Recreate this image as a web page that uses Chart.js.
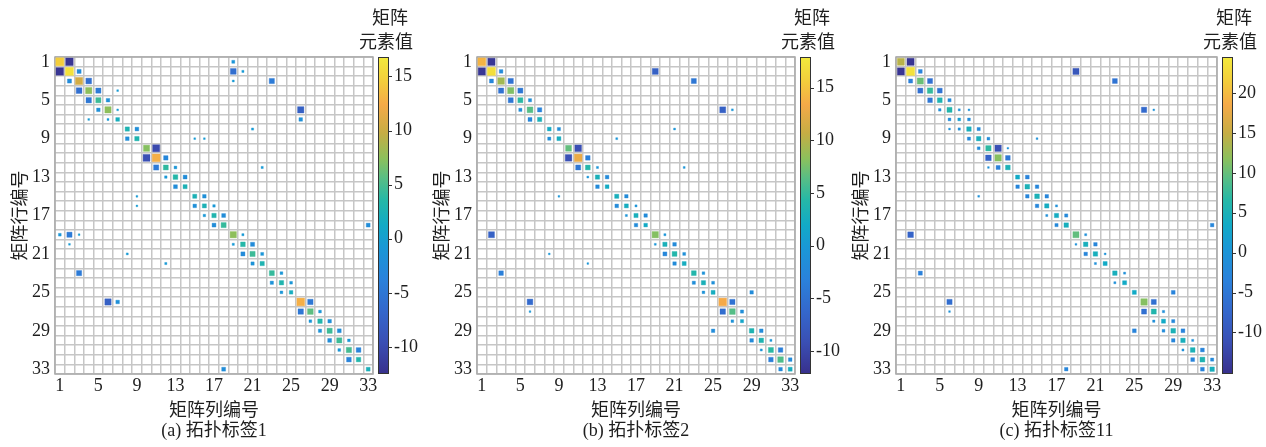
<!DOCTYPE html>
<html>
<head>
<meta charset="utf-8">
<script src="https://cdn.jsdelivr.net/npm/chart.js@4.4.0/dist/chart.umd.min.js"></script>
<style>
  body { margin: 0; background: #fff; }
  #wrap { position: relative; width: 1266px; height: 447px; }
  .panel { position: absolute; top: 0; }
</style>
</head>
<body>
<div id="wrap">
  <div class="panel" style="left:0px"><canvas id="chartA" width="422" height="447"></canvas></div>
  <div class="panel" style="left:422px"><canvas id="chartB" width="422" height="447"></canvas></div>
  <div class="panel" style="left:841px"><canvas id="chartC" width="425" height="447"></canvas></div>
</div>
<script>
// 矩阵非零元素: [行, 列, 值]
const matrixA = [
  [1,1,14.5],[1,2,-12],[1,19,-1.2],
  [2,1,-12],[2,2,16.2],[2,3,-2.5],[2,19,-6],[2,20,-0.6],
  [3,2,-2.5],[3,3,10.5],[3,4,-5.8],[3,19,-0.5],[3,23,-4.5],
  [4,3,-5.8],[4,4,7.5],[4,5,-4.5],[4,7,-0.4],
  [5,4,-5],[5,5,4.5],[5,6,-1.8],
  [6,5,-1.8],[6,6,7.5],[6,7,-0.4],[6,26,-7.5],
  [7,4,-0.4],[7,6,-0.5],[7,7,2],[7,26,-1.8],
  [8,8,2.8],[8,9,-2],[8,21,-0.6],
  [9,8,-2],[9,9,3],[9,15,-0.4],[9,16,-0.4],
  [10,10,7.2],[10,11,-10],
  [11,10,-9.5],[11,11,12.7],[11,12,-3],
  [12,11,-4.5],[12,12,4],[12,13,-1],[12,22,-0.6],
  [13,12,-0.8],[13,13,3.5],[13,14,-2.2],
  [14,13,-2.2],[14,14,2.5],
  [15,9,-0.4],[15,15,2.5],[15,16,-1.8],
  [16,9,-0.3],[16,15,-1.8],[16,16,2.5],[16,17,-0.8],
  [17,16,-0.8],[17,17,3],[17,18,-2.2],
  [18,17,-2.2],[18,18,4.2],[18,33,-2.2],
  [19,1,-1],[19,2,-4.5],[19,3,-0.4],[19,19,7.5],[19,20,-0.6],
  [20,2,-0.4],[20,19,-0.6],[20,20,3.5],[20,21,-2.5],
  [21,8,-0.5],[21,20,-2.5],[21,21,4.5],[21,22,-1.2],
  [22,12,-0.6],[22,21,-1.5],[22,22,2.8],
  [23,3,-4.5],[23,23,4.2],[23,24,-1],
  [24,23,-1.5],[24,24,3],[24,25,-1],
  [25,24,-1],[25,25,1.8],
  [26,6,-7.5],[26,7,-1.8],[26,26,12.7],[26,27,-5],
  [27,26,-5],[27,27,5.8],[27,28,-1],
  [28,27,-1],[28,28,3.2],[28,29,-1.8],
  [29,28,-1.5],[29,29,4.5],[29,30,-2.2],
  [30,29,-2.2],[30,30,4.5],[30,31,-1],
  [31,30,-1],[31,31,4.8],[31,32,-3.5],
  [32,31,-3.5],[32,32,3.2],
  [33,18,-2.2],[33,33,2.2]
];
const matrixB = [
  [1,1,14],[1,2,-11.5],
  [2,1,-11.5],[2,2,17],[2,3,-2],[2,19,-7],
  [3,2,-2.5],[3,3,9.2],[3,4,-5],[3,23,-4.5],
  [4,3,-5],[4,4,7.8],[4,5,-4.5],
  [5,4,-4.5],[5,5,4.5],[5,6,-1.5],
  [6,5,-1.5],[6,6,6.3],[6,7,-3],[6,26,-7],[6,27,-0.5],
  [7,6,-2.5],[7,7,3],
  [8,8,2.2],[8,9,-1.5],[8,21,-0.5],
  [9,8,-1.5],[9,9,2.5],[9,15,-0.5],
  [10,10,6.8],[10,11,-9.2],
  [11,10,-9],[11,11,12.8],[11,12,-3.5],
  [12,11,-4.5],[12,12,4],[12,13,-0.6],[12,22,-0.5],
  [13,12,-0.5],[13,13,3],[13,14,-2],
  [14,13,-2],[14,14,2.2],
  [15,9,-0.4],[15,15,2.8],[15,16,-1.8],
  [16,15,-2],[16,16,2.5],[16,17,-0.6],
  [17,16,-0.6],[17,17,2.8],[17,18,-1.8],
  [18,17,-1.8],[18,18,2],
  [19,2,-7],[19,19,8],[19,20,-0.6],
  [20,19,-0.5],[20,20,3],[20,21,-2],
  [21,8,-0.4],[21,20,-2.5],[21,21,4],[21,22,-1.2],
  [22,12,-0.4],[22,21,-1.8],[22,22,2.5],
  [23,3,-3.5],[23,23,4],[23,24,-1],
  [24,23,-1.5],[24,24,3],[24,25,-1.2],
  [25,24,-1],[25,25,2.5],[25,29,-1.8],
  [26,6,-6],[26,26,13.4],[26,27,-5],
  [27,6,-0.4],[27,26,-5.5],[27,27,6.3],[27,28,-1.5],
  [28,27,-1],[28,28,1.5],
  [29,25,-1.8],[29,29,3.5],[29,30,-2],
  [30,29,-2],[30,30,3.5],[30,31,-0.6],
  [31,30,-0.6],[31,31,4.5],[31,32,-3.5],
  [32,31,-3.5],[32,32,6],[32,33,-2],
  [33,32,-2],[33,33,2.5]
];
const matrixC = [
  [1,1,14.2],[1,2,-14.5],
  [2,1,-14.5],[2,2,23.7],[2,3,-3],[2,19,-10],
  [3,2,-3.5],[3,3,10.2],[3,4,-6],[3,23,-5.5],
  [4,3,-6],[4,4,7.4],[4,5,-5.5],
  [5,4,-5],[5,5,5.4],[5,6,-2],
  [6,5,-1.2],[6,6,6],[6,7,-0.8],[6,8,-0.6],[6,26,-7],[6,27,-0.5],
  [7,6,-1.5],[7,7,1.5],[7,8,-1.5],
  [8,6,-0.6],[8,7,-1],[8,8,4.5],[8,9,-2],
  [9,8,-2],[9,9,4.5],[9,10,-1.5],[9,15,-0.6],
  [10,9,-1.5],[10,10,7],[10,11,-11],[10,12,-0.4],
  [11,10,-8],[11,11,11.5],[11,12,-5],
  [12,10,-0.4],[12,11,-3.5],[12,12,5],
  [13,13,3.5],[13,14,-3],
  [14,13,-2.5],[14,14,5],[14,15,-2.5],
  [15,9,-0.6],[15,14,-2.5],[15,15,5],[15,16,-2.5],
  [16,15,-2.5],[16,16,4],[16,17,-0.8],
  [17,16,-0.8],[17,17,4],[17,18,-2],
  [18,17,-2],[18,18,4.5],[18,33,-2.5],
  [19,2,-8],[19,19,9.8],[19,20,-0.8],
  [20,19,-0.6],[20,20,4.5],[20,21,-2.5],
  [21,20,-2.5],[21,21,4.5],[21,22,-0.6],
  [22,21,-0.8],[22,22,3.5],
  [23,3,-3.5],[23,23,4.5],[23,24,-0.8],
  [24,23,-0.8],[24,24,3.5],
  [25,25,3.5],[25,29,-3],
  [26,6,-6.5],[26,26,11.5],[26,27,-6],
  [27,6,-0.5],[27,26,-6],[27,27,6],[27,28,-1],
  [28,27,-1],[28,28,3.5],[28,29,-2],
  [29,25,-3],[29,28,-1.5],[29,29,5],[29,30,-3],
  [30,29,-2.5],[30,30,4.5],[30,31,-0.8],
  [31,30,-0.8],[31,31,5],[31,32,-3],
  [32,31,-3],[32,32,5.5],[32,33,-2],
  [33,18,-2.5],[33,32,-3],[33,33,4.5]
];

const matrixSize = 33;
const axisTicks = [1, 5, 9, 13, 17, 21, 25, 29, 33];

// 颜色条范围和刻度
const cbRangeA = [-12.5, 16.8];
const cbRangeB = [-12.2, 17.9];
const cbRangeC = [-15.2, 24.5];
const cbTicksA = [-10, -5, 0, 5, 10, 15];
const cbTicksB = [-10, -5, 0, 5, 10, 15];
const cbTicksC = [-10, -5, 0, 5, 10, 15, 20];

const cbTitle = ['矩阵', '元素值'];
const xTitle = '矩阵列编号';
const yTitle = '矩阵行编号';
const captions = ['(a) 拓扑标签1', '(b) 拓扑标签2', '(c) 拓扑标签11'];

// parula 近似
const parulaStops = [
  [0.00, [56, 48, 140]],
  [0.10, [58, 79, 180]],
  [0.20, [52, 104, 204]],
  [0.30, [42, 130, 219]],
  [0.40, [26, 152, 214]],
  [0.47, [18, 170, 198]],
  [0.55, [38, 184, 166]],
  [0.62, [90, 190, 132]],
  [0.68, [140, 192, 92]],
  [0.76, [198, 173, 68]],
  [0.85, [245, 170, 72]],
  [0.92, [243, 204, 60]],
  [1.00, [243, 234, 60]]
];

function parula(t, alpha) {
  t = Math.max(0, Math.min(1, t));
  let i = 0;
  while (i < parulaStops.length - 2 && t > parulaStops[i + 1][0]) i++;
  const [t0, c0] = parulaStops[i];
  const [t1, c1] = parulaStops[i + 1];
  const f = (t - t0) / (t1 - t0);
  const c = c0.map((v, k) => Math.round(v + (c1[k] - v) * f));
  return alpha === undefined ? `rgb(${c})` : `rgba(${c},${alpha})`;
}

const fontFamily = "'Liberation Serif', 'Times New Roman', 'Noto Sans CJK SC', serif";
const textColor = '#1e1e1e';

const cells = [];
for (let i = 1; i <= matrixSize; i++) cells.push(i);
const edges = [];
for (let i = 0; i <= matrixSize; i++) edges.push(i + 0.5);

const framePlugin = {
  id: 'frame',
  beforeDatasetsDraw(chart) {
    const {ctx, chartArea: a} = chart;
    ctx.save();
    ctx.strokeStyle = '#ababab';
    ctx.lineWidth = 1.5;
    ctx.strokeRect(a.left, a.top, a.right - a.left, a.bottom - a.top);
    ctx.restore();
  }
};

const colorbarPlugin = {
  id: 'colorbar',
  afterDraw(chart) {
    const {ctx, chartArea: a} = chart;
    const s = chart.scales.cb;
    const x0 = a.right + 5, w = 11;
    const yTop = s.getPixelForValue(s.max);
    const yBot = s.getPixelForValue(s.min);
    const g = ctx.createLinearGradient(0, yBot, 0, yTop);
    parulaStops.forEach(([t, c]) => g.addColorStop(t, `rgb(${c})`));
    ctx.save();
    ctx.fillStyle = g;
    ctx.fillRect(x0, yTop, w, yBot - yTop);
    ctx.strokeStyle = '#333';
    ctx.lineWidth = 1;
    ctx.strokeRect(x0 + 0.5, yTop + 0.5, w - 1, yBot - yTop - 1);
    s.ticks.forEach(t => {
      const y = Math.round(s.getPixelForValue(t.value)) + 0.5;
      ctx.beginPath();
      ctx.moveTo(x0 + w, y);
      ctx.lineTo(x0 + w + 3, y);
      ctx.stroke();
    });
    ctx.fillStyle = textColor;
    ctx.font = `18px ${fontFamily}`;
    ctx.textAlign = 'center';
    ctx.textBaseline = 'middle';
    ctx.fillText(cbTitle[0], a.right + 17, 19);
    ctx.fillText(cbTitle[1], a.right + 13, 43);
    ctx.restore();
  }
};

function matrixChart(canvasId, matrix, cbRange, cbTicks, caption) {
  const [vmin, vmax] = cbRange;
  const absMax = Math.max(Math.abs(vmin), Math.abs(vmax));
  const colorOf = (v, alpha) => parula((v - vmin) / (vmax - vmin), alpha);

  function sideOf(chart, v) {
    const a = chart.chartArea;
    if (!a) return 3;
    const cell = (a.right - a.left) / matrixSize;
    return cell * Math.min(0.94, Math.max(0.28, 1.0 * Math.cbrt(Math.abs(v) / absMax)));
  }

  new Chart(document.getElementById(canvasId), {
    type: 'scatter',
    data: {
      datasets: [{
        data: matrix.map(([r, c, v]) => ({x: c, y: r, v: v})),
        pointStyle: 'rect',
        pointRadius: ctx => ctx.raw ? (sideOf(ctx.chart, ctx.raw.v) - 1) / Math.SQRT2 : 0,
        backgroundColor: ctx => ctx.raw ? colorOf(ctx.raw.v) : '#000',
        borderColor: ctx => ctx.raw ? colorOf(ctx.raw.v, 0.35) : '#000',
        borderWidth: 1
      }]
    },
    options: {
      responsive: false,
      animation: false,
      events: [],
      layout: {padding: {top: 57, left: 0, right: 0, bottom: 0}},
      plugins: {legend: {display: false}, tooltip: {enabled: false}},
      scales: {
        xg: {
          type: 'linear', axis: 'x', position: 'bottom', min: 0.5, max: matrixSize + 0.5,
          afterBuildTicks: s => { s.ticks = edges.map(v => ({value: v})); },
          ticks: {display: false},
          grid: {color: '#c6c6c6', lineWidth: 1.5, drawTicks: false},
          border: {display: false},
          afterFit: s => { s.height = 0; }
        },
        yg: {
          type: 'linear', axis: 'y', position: 'left', min: 0.5, max: matrixSize + 0.5, reverse: true,
          afterBuildTicks: s => { s.ticks = edges.map(v => ({value: v})); },
          ticks: {display: false},
          grid: {color: '#c6c6c6', lineWidth: 1.5, drawTicks: false},
          border: {display: false},
          afterFit: s => { s.width = 0; }
        },
        x: {
          type: 'linear', position: 'bottom', min: 0.5, max: matrixSize + 0.5,
          afterBuildTicks: s => { s.ticks = cells.map(v => ({value: v})); },
          ticks: {
            autoSkip: false, maxRotation: 0, minRotation: 0, padding: 1,
            color: textColor, font: {family: fontFamily, size: 18},
            callback: v => axisTicks.includes(v) ? String(v) : ''
          },
          grid: {display: false, drawTicks: false},
          border: {display: false},
          title: {
            display: true, text: [xTitle, caption], color: textColor,
            font: {family: fontFamily, size: 18, lineHeight: 1.1}, padding: {top: 0, bottom: 6}
          },
          afterFit: s => { s.height = 73; }
        },
        y: {
          type: 'linear', position: 'left', min: 0.5, max: matrixSize + 0.5, reverse: true,
          afterBuildTicks: s => { s.ticks = cells.map(v => ({value: v})); },
          ticks: {
            autoSkip: false, padding: 5,
            color: textColor, font: {family: fontFamily, size: 18},
            callback: v => axisTicks.includes(v) ? String(v) : ''
          },
          grid: {display: false, drawTicks: false},
          border: {display: false},
          title: {
            display: true, text: yTitle, color: textColor,
            font: {family: fontFamily, size: 18}, padding: {top: 10, bottom: 0}
          },
          afterFit: s => { s.width = 55; }
        },
        cb: {
          type: 'linear', axis: 'y', position: 'right', min: vmin, max: vmax,
          afterBuildTicks: s => { s.ticks = cbTicks.map(v => ({value: v})); },
          ticks: {padding: 21, color: textColor, font: {family: fontFamily, size: 18}},
          grid: {display: false, drawTicks: false},
          border: {display: false},
          afterFit: s => { s.width = 49; }
        }
      }
    },
    plugins: [framePlugin, colorbarPlugin]
  });
}

matrixChart('chartA', matrixA, cbRangeA, cbTicksA, captions[0]);
matrixChart('chartB', matrixB, cbRangeB, cbTicksB, captions[1]);
matrixChart('chartC', matrixC, cbRangeC, cbTicksC, captions[2]);
</script>
</body>
</html>
